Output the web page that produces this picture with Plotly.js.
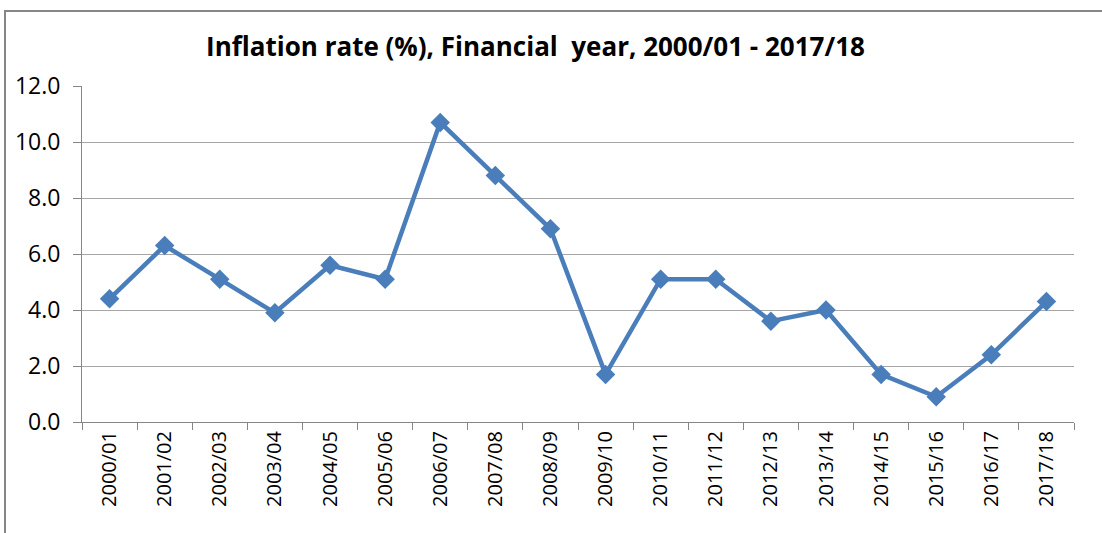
<!DOCTYPE html>
<html>
<head>
<meta charset="utf-8">
<script src="https://cdn.plot.ly/plotly-3.0.1.min.js"></script>
<style>
html,body{margin:0;padding:0;background:#fff;}
#chart{width:1102px;height:533px;}
</style>
</head>
<body>
<div id="chart"></div>
<script>
const years = ["2000/01","2001/02","2002/03","2003/04","2004/05","2005/06","2006/07","2007/08","2008/09","2009/10","2010/11","2011/12","2012/13","2013/14","2014/15","2015/16","2016/17","2017/18"];
const inflation = [4.4, 6.3, 5.1, 3.9, 5.6, 5.1, 10.7, 8.8, 6.9, 1.7, 5.1, 5.1, 3.6, 4.0, 1.7, 0.9, 2.4, 4.3];
const chartTitle = "Inflation rate (%), Financial&nbsp; year, 2000/01 - 2017/18";

const trace = {
  x: years,
  y: inflation,
  type: "scatter",
  mode: "lines+markers",
  line: {color: "#4a7ebb", width: 4.5},
  marker: {symbol: "diamond", size: 15, color: "#4a7ebb"},
  cliponaxis: false,
  hoverinfo: "x+y"
};

const layout = {
  width: 1102,
  height: 533,
  margin: {l: 82, r: 28, t: 86, b: 111},
  paper_bgcolor: "#ffffff",
  plot_bgcolor: "#ffffff",
  showlegend: false,
  title: {
    text: "<b>" + chartTitle + "</b>",
    font: {family: "Open Sans", size: 26, color: "#000000"},
    x: 535.5 / 1102, xref: "container", xanchor: "center",
    y: 1 - 47 / 533, yref: "container", yanchor: "middle"
  },
  xaxis: {
    type: "category",
    tickangle: -90,
    tickson: "boundaries",
    ticks: "outside",
    ticklen: 7,
    tickcolor: "#868686",
    tickwidth: 1,
    showgrid: false,
    showline: true,
    linecolor: "#868686",
    linewidth: 1,
    tickfont: {family: "Open Sans", size: 20, color: "#000000"},
    range: [-0.5, 17.5],
    fixedrange: true
  },
  yaxis: {
    range: [0, 12],
    dtick: 2,
    tick0: 0,
    tickformat: ".1f",
    ticks: "outside",
    ticklen: 8,
    tickcolor: "#868686",
    showgrid: true,
    gridcolor: "#a6a6a6",
    gridwidth: 1,
    zeroline: false,
    showline: true,
    linecolor: "#868686",
    linewidth: 1,
    tickfont: {family: "Open Sans", size: 23, color: "#000000"},
    ticklabelstandoff: 8,
    fixedrange: true
  },
  shapes: [{
    type: "rect",
    xref: "paper", yref: "paper",
    x0: (5 - 82) / 992, x1: (1120 - 82) / 992,
    y0: (422 - 560) / 336, y1: (422 - 11) / 336,
    line: {color: "#868686", width: 2},
    fillcolor: "rgba(0,0,0,0)",
    layer: "below"
  }]
};

Plotly.newPlot("chart", [trace], layout, {displayModeBar: false, staticPlot: true});
</script>
</body>
</html>
